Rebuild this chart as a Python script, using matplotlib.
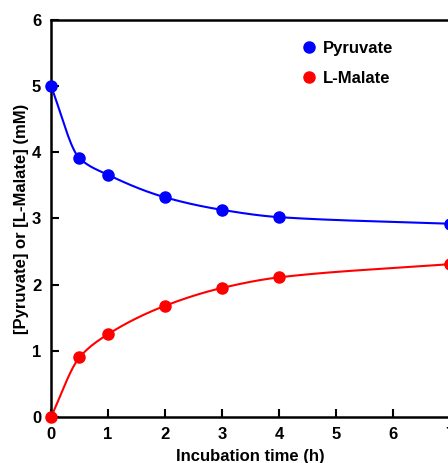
import numpy as np
import matplotlib
matplotlib.use("Agg")
import matplotlib.pyplot as plt

plt.rcParams['font.family'] = ['Liberation Sans', 'DejaVu Sans']
plt.rcParams['font.weight'] = 'bold'

# Messwerte
time_h = [0, 0.5, 1, 2, 3, 4, 7]
pyruvate = [5.0, 3.91, 3.66, 3.32, 3.13, 3.02, 2.92]
malate = [0.0, 0.90, 1.25, 1.68, 1.95, 2.11, 2.31]


def pchip(x, y, xs):
    # monotone kubische Interpolation (Fritsch-Carlson) nur fuer die glatte Linie
    x = np.asarray(x, float)
    y = np.asarray(y, float)
    h = np.diff(x)
    d = np.diff(y) / h
    m = np.zeros_like(y)
    for k in range(1, len(x) - 1):
        if d[k - 1] * d[k] > 0:
            w1 = 2 * h[k] + h[k - 1]
            w2 = h[k] + 2 * h[k - 1]
            m[k] = (w1 + w2) / (w1 / d[k - 1] + w2 / d[k])
    m[0] = d[0]
    m[-1] = d[-1]
    idx = np.clip(np.searchsorted(x, xs) - 1, 0, len(x) - 2)
    t = (xs - x[idx]) / h[idx]
    h00 = 2 * t**3 - 3 * t**2 + 1
    h10 = t**3 - 2 * t**2 + t
    h01 = -2 * t**3 + 3 * t**2
    h11 = t**3 - t**2
    return (h00 * y[idx] + h10 * h[idx] * m[idx]
            + h01 * y[idx + 1] + h11 * h[idx] * m[idx + 1])


fig = plt.figure(figsize=(4.48, 4.63), dpi=100)
ax = fig.add_axes([0.1138, 0.0994, 0.8906, 0.8575])

xs = np.linspace(0, 7, 400)
ax.plot(xs, pchip(time_h, pyruvate, xs), color='blue', lw=1.5, clip_on=False)
ax.plot(xs, pchip(time_h, malate, xs), color='red', lw=1.5, clip_on=False)
ax.plot(time_h, pyruvate, 'o', color='blue', ms=8, clip_on=False, zorder=5,
        label='Pyruvate')
ax.plot(time_h, malate, 'o', color='red', ms=8, clip_on=False, zorder=5,
        label='L-Malate')

ax.set_xlim(0, 7)
ax.set_ylim(0, 6)
ax.set_xticks(range(0, 8))
ax.set_yticks(range(0, 7))
ax.tick_params(direction='in', length=6, width=1.5, labelsize=12, pad=7)
for s in ax.spines.values():
    s.set_linewidth(1.8)

ax.set_xlabel('Incubation time (h)', fontsize=12, fontweight='bold', labelpad=5)
ax.set_ylabel('[Pyruvate] or [L-Malate] (mM)', fontsize=12, fontweight='bold',
              labelpad=2)

ax.legend(loc='upper left', bbox_to_anchor=(0.585, 0.985), frameon=False,
          fontsize=12, handletextpad=0.2, labelspacing=0.9, handlelength=1.2)

fig.savefig('out.png', dpi=100)
